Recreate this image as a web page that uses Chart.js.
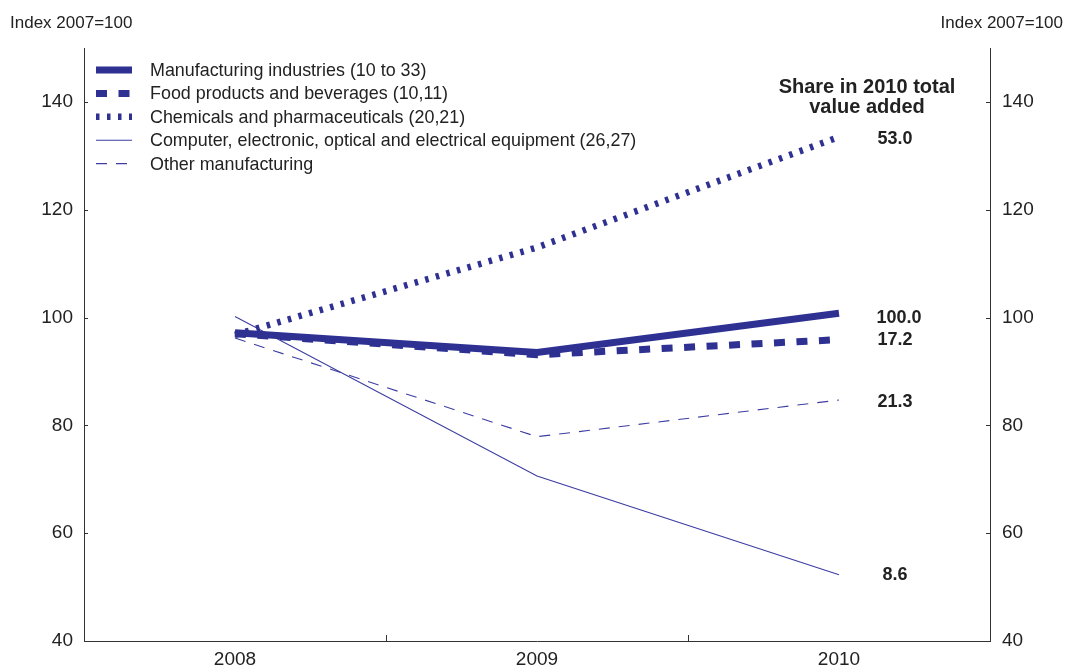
<!DOCTYPE html>
<html>
<head>
<meta charset="utf-8">
<script src="https://cdn.jsdelivr.net/npm/chart.js@4/dist/chart.umd.min.js"></script>
<style>
  html, body { margin: 0; padding: 0; background: #ffffff; }
  #wrap { width: 1068px; height: 666px; }
</style>
</head>
<body>
<div id="wrap"><canvas id="chart" width="1068" height="666"></canvas></div>
<script>
// --- data ---
const years = ['2008', '2009', '2010'];
const manufacturing = [97.2, 93.5, 100.8];
const foodBeverages = [97.0, 93.1, 95.9];
const chemicalsPharma = [96.8, 113.0, 133.5];
const computerElectronic = [100.2, 70.6, 52.3];
const otherManufacturing = [96.2, 77.9, 84.7];
const seriesNames = [
  'Manufacturing industries (10 to 33)',
  'Food products and beverages (10,11)',
  'Chemicals and pharmaceuticals (20,21)',
  'Computer, electronic, optical and electrical equipment (26,27)',
  'Other manufacturing'
];
const shares2010 = ['100.0', '17.2', '53.0', '8.6', '21.3'];
const yTicks = [40, 60, 80, 100, 120, 140];

const NAVY = '#2e3192';
const THIN = '#3d3da3';
const FONT = "'Liberation Sans', Arial, sans-serif";
const INK = '#222222';

function series(label, data, width, dash, color) {
  return {
    label: label,
    data: data,
    borderColor: color || NAVY,
    backgroundColor: color || NAVY,
    borderWidth: width,
    borderDash: dash,
    borderCapStyle: 'butt',
    borderJoinStyle: 'miter',
    tension: 0,
    pointRadius: 0,
    fill: false
  };
}

// legend, header text, share labels and the little inward ticks
const decorPlugin = {
  id: 'decor',
  afterDraw(chart) {
    const ctx = chart.ctx;
    const x = chart.scales.x;
    const yL = chart.scales.y;
    const area = chart.chartArea;
    ctx.save();

    // inward ticks on the value axes
    ctx.strokeStyle = '#333333';
    ctx.lineWidth = 1;
    ctx.setLineDash([]);
    yTicks.forEach(v => {
      const py = Math.round(yL.getPixelForValue(v)) + 0.5;
      ctx.beginPath();
      ctx.moveTo(area.left, py); ctx.lineTo(area.left + 4, py);
      ctx.moveTo(area.right, py); ctx.lineTo(area.right - 4, py);
      ctx.stroke();
    });
    // ticks between the years on the bottom axis
    for (let i = 0; i < years.length - 1; i++) {
      const px = Math.round((x.getPixelForValue(i) + x.getPixelForValue(i + 1)) / 2) + 0.5;
      ctx.beginPath();
      ctx.moveTo(px, area.bottom); ctx.lineTo(px, area.bottom - 6);
      ctx.stroke();
    }

    // axis unit labels
    ctx.fillStyle = INK;
    ctx.font = '17px ' + FONT;
    ctx.textBaseline = 'middle';
    ctx.textAlign = 'left';
    ctx.fillText('Index 2007=100', 10, 23);
    ctx.textAlign = 'right';
    ctx.fillText('Index 2007=100', 1063, 23);

    // legend
    const ds = chart.data.datasets;
    ctx.textAlign = 'left';
    ctx.font = '17.9px ' + FONT;
    ds.forEach((d, i) => {
      const cy = area.top + 22 + i * 23.4;
      ctx.strokeStyle = d.borderColor;
      ctx.lineWidth = d.borderWidth;
      ctx.lineCap = 'butt';
      ctx.setLineDash(d.borderDash || []);
      ctx.beginPath();
      ctx.moveTo(96, cy); ctx.lineTo(132, cy);
      ctx.stroke();
      ctx.setLineDash([]);
      ctx.fillStyle = INK;
      ctx.fillText(d.label, 150, cy + 1);
    });

    // share header
    const last = years.length - 1;
    const lx = x.getPixelForValue(last);
    ctx.font = 'bold 20px ' + FONT;
    ctx.textAlign = 'center';
    ctx.fillText('Share in 2010 total', lx + 28, area.top + 39);
    ctx.fillText('value added', lx + 28, area.top + 59);

    // share values at the end of each line
    ctx.font = 'bold 18px ' + FONT;
    ctx.textAlign = 'left';
    const nudge = [5, 0, 2, 0, 2];
    ds.forEach((d, i) => {
      const py = yL.getPixelForValue(d.data[last]) + nudge[i];
      const w = ctx.measureText(shares2010[i]).width;
      ctx.fillText(shares2010[i], lx + 56 - w / 2 + (shares2010[i].length > 4 ? 4 : 0), py);
    });

    ctx.restore();
  }
};

const axisFont = { family: FONT, size: 19 };

new Chart(document.getElementById('chart'), {
  type: 'line',
  data: {
    labels: years,
    datasets: [
      series(seriesNames[0], manufacturing, 7, []),
      series(seriesNames[1], foodBeverages, 7, [11, 11.5]),
      series(seriesNames[2], chemicalsPharma, 6.5, [3.5, 7.5]),
      series(seriesNames[3], computerElectronic, 1.1, [], THIN),
      series(seriesNames[4], otherManufacturing, 1.1, [11, 9], THIN)
    ]
  },
  options: {
    responsive: false,
    animation: false,
    layout: { padding: { top: 48, left: 0, right: 0, bottom: 0 } },
    plugins: {
      legend: { display: false },
      tooltip: { enabled: false }
    },
    scales: {
      x: {
        type: 'category',
        offset: true,
        grid: { display: true, drawOnChartArea: false, drawTicks: false, offset: true },
        border: { display: true, color: '#333333', width: 1 },
        ticks: { color: INK, font: axisFont, padding: 7, maxRotation: 0 },
        afterFit(scale) { scale.height = 25; }
      },
      y: {
        position: 'left',
        min: 40,
        max: 150,
        afterBuildTicks(scale) { scale.ticks = yTicks.map(v => ({ value: v })); },
        grid: { drawOnChartArea: false, drawTicks: false },
        border: { display: true, color: '#333333', width: 1 },
        ticks: { color: INK, font: axisFont, padding: 11 },
        afterFit(scale) { scale.width = 84; }
      },
      y2: {
        position: 'right',
        min: 40,
        max: 150,
        afterBuildTicks(scale) { scale.ticks = yTicks.map(v => ({ value: v })); },
        grid: { drawOnChartArea: false, drawTicks: false },
        border: { display: true, color: '#333333', width: 1 },
        ticks: { color: INK, font: axisFont, padding: 12 },
        afterFit(scale) { scale.width = 78; }
      }
    }
  },
  plugins: [decorPlugin]
});
</script>
</body>
</html>
